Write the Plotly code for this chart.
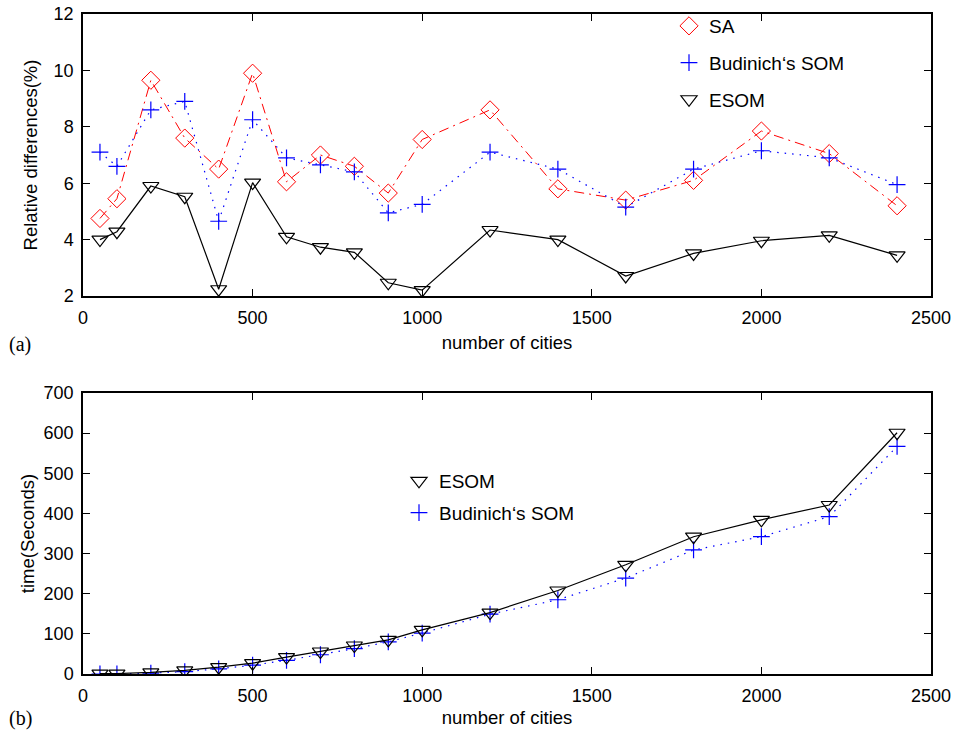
import plotly.graph_objects as go

cities = [50, 100, 200, 300, 400, 500, 600, 700, 800, 900, 1000,
          1200, 1400, 1600, 1800, 2000, 2200, 2400]

# (a) relative differences (%)
sa_diff = [4.75, 5.45, 9.65, 7.6, 6.5, 9.9, 6.05, 7.0, 6.6, 5.65, 7.55,
           8.6, 5.8, 5.4, 6.1, 7.85, 7.05, 5.2]
bud_diff = [7.1, 6.6, 8.6, 8.9, 4.65, 8.25, 6.9, 6.65, 6.4, 4.95, 5.25,
            7.1, 6.5, 5.15, 6.5, 7.15, 6.9, 5.95]
esom_diff = [4.0, 4.28, 5.9, 5.52, 2.24, 6.02, 4.1, 3.73, 3.55, 2.47, 2.21,
             4.34, 4.0, 2.71, 3.51, 3.96, 4.15, 3.44]

# (b) time (seconds)
esom_time = [1, 1, 4, 9, 17, 27, 42, 56, 71, 85, 110,
             153, 208, 272, 342, 384, 421, 601]
bud_time = [0, 0, 2, 6, 13, 22, 34, 48, 63, 80, 102,
            149, 185, 239, 309, 342, 392, 567]

x_ticks = [0, 500, 1000, 1500, 2000, 2500]
y1_ticks = [2, 4, 6, 8, 10, 12]
y2_ticks = [0, 100, 200, 300, 400, 500, 600, 700]

FONT = "Liberation Sans, Arial, sans-serif"
SERIF = "Liberation Serif, Times New Roman, serif"
RED = "#ff0000"
BLUE = "#0000ff"
BLACK = "#000000"

sa_marker = dict(symbol="diamond-open", size=14, color=RED, line=dict(width=1, color=RED))
bud_marker = dict(symbol="cross-thin-open", size=12, color=BLUE, line=dict(width=1.2, color=BLUE))
esom_marker = dict(symbol="triangle-down-open", size=14, color=BLACK, line=dict(width=1.2, color=BLACK))

SA_DASH = "10px,5px,2px,5px"
BUD_DASH = "1.5px,6px"

fig = go.Figure()

# top chart lines
fig.add_trace(go.Scatter(x=cities, y=sa_diff, mode="lines+markers", showlegend=False,
                         line=dict(color=RED, width=1, dash=SA_DASH), marker=sa_marker,
                         xaxis="x", yaxis="y"))
fig.add_trace(go.Scatter(x=cities, y=bud_diff, mode="lines+markers", showlegend=False,
                         line=dict(color=BLUE, width=1.2, dash=BUD_DASH), marker=bud_marker,
                         xaxis="x", yaxis="y"))
fig.add_trace(go.Scatter(x=cities, y=esom_diff, mode="lines+markers", showlegend=False,
                         line=dict(color=BLACK, width=1.2), marker=esom_marker,
                         xaxis="x", yaxis="y"))

# bottom chart lines
fig.add_trace(go.Scatter(x=cities, y=bud_time, mode="lines+markers", showlegend=False,
                         line=dict(color=BLUE, width=1.2, dash=BUD_DASH), marker=bud_marker,
                         xaxis="x2", yaxis="y2"))
fig.add_trace(go.Scatter(x=cities, y=esom_time, mode="lines+markers", showlegend=False,
                         line=dict(color=BLACK, width=1.2), marker=esom_marker,
                         xaxis="x2", yaxis="y2"))

# legend entries (markers only, like the original key)
for name, mk, grp in [("SA", sa_marker, "a"), ("Budinich‘s SOM", bud_marker, "b"),
                      ("ESOM", esom_marker, "c")]:
    fig.add_trace(go.Scatter(x=[None], y=[None], mode="markers", marker=mk, name=name,
                             legendgroup=grp, legend="legend", xaxis="x", yaxis="y"))
for name, mk, grp in [("ESOM", esom_marker, "d"), ("Budinich‘s SOM", bud_marker, "e")]:
    fig.add_trace(go.Scatter(x=[None], y=[None], mode="markers", marker=mk, name=name,
                             legendgroup=grp, legend="legend2", xaxis="x2", yaxis="y2"))

axis_common = dict(showline=True, linecolor=BLACK, linewidth=1.5, mirror="ticks",
                   ticks="inside", ticklen=7, tickwidth=1.2, tickcolor=BLACK,
                   showgrid=False, zeroline=False, automargin=False,
                   tickfont=dict(family=FONT, size=18, color=BLACK))
title_font = dict(family=FONT, size=18.5, color=BLACK)

# pixel layout: plotting area spans from the very top of the figure to y=674
ML, MR, MT, MB = 83, 24, 0, 57
W, H = 955, 731
plot_w = W - ML - MR
plot_h = H - MT - MB


def fy(ypix):
    """figure pixel row -> paper fraction"""
    return (H - MB - ypix) / plot_h


def fx(xpix):
    return (xpix - ML) / plot_w


top_dom = [fy(296), fy(14)]
bot_dom = [fy(674), fy(393)]

fig.update_layout(
    width=W, height=H,
    margin=dict(l=ML, r=MR, t=MT, b=MB),
    paper_bgcolor="white", plot_bgcolor="white",
    font=dict(family=FONT, color=BLACK),
    xaxis=dict(domain=[0, 1], range=[0, 2500], tickvals=x_ticks, ticklabelstandoff=5,
               anchor="y", title=dict(text="number of cities", font=title_font, standoff=9),
               **axis_common),
    yaxis=dict(domain=top_dom, range=[2, 12], tickvals=y1_ticks, ticklabelstandoff=4,
               anchor="x", title=dict(text="Relative differences(%)", font=title_font, standoff=11),
               **axis_common),
    xaxis2=dict(domain=[0, 1], range=[0, 2500], tickvals=x_ticks, ticklabelstandoff=5,
                anchor="y2", title=dict(text="number of cities", font=title_font, standoff=6),
                **axis_common),
    yaxis2=dict(domain=bot_dom, range=[0, 700], tickvals=y2_ticks, ticklabelstandoff=4,
                anchor="x2", title=dict(text="time(Seconds)", font=title_font, standoff=4),
                **axis_common),
    legend=dict(x=fx(669), y=fy(7), xanchor="left", yanchor="top", bgcolor="rgba(0,0,0,0)",
                font=dict(family=FONT, size=19, color=BLACK), itemwidth=30,
                tracegroupgap=9, traceorder="grouped"),
    legend2=dict(x=fx(399), y=fy(462), xanchor="left", yanchor="top", bgcolor="rgba(0,0,0,0)",
                 font=dict(family=FONT, size=19, color=BLACK), itemwidth=30,
                 tracegroupgap=4, traceorder="grouped"),
)

for lab, ypix in [("(a)", 344), ("(b)", 718)]:
    fig.add_annotation(text=lab, x=fx(7), y=fy(ypix), xref="paper", yref="paper",
                       xanchor="left", yanchor="middle", showarrow=False,
                       font=dict(family=SERIF, size=20, color=BLACK))

fig.write_html("out.html")
